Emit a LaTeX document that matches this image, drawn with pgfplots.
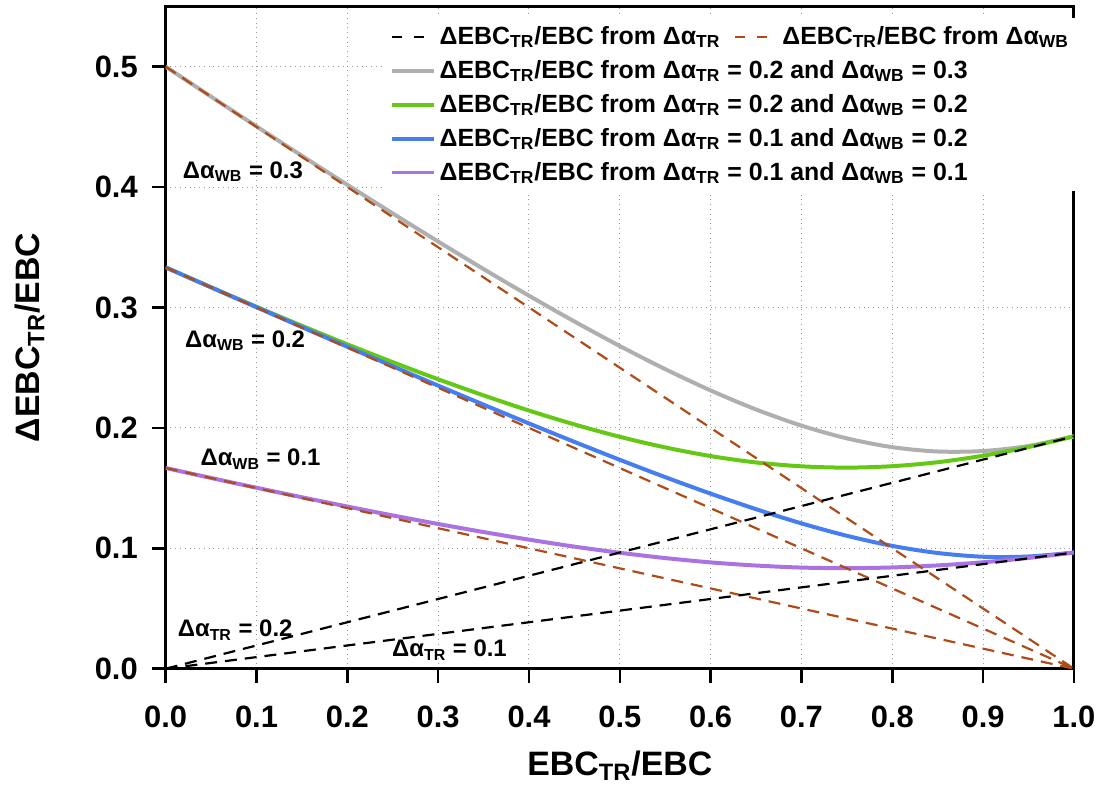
\documentclass[border=0pt]{standalone}
\usepackage{fontspec}
\setmainfont{Liberation Sans}
\usepackage{pgfplots}
\pgfplotsset{compat=1.18}

\definecolor{cgray}{RGB}{175,175,175}
\definecolor{cgreen}{RGB}{100,200,20}
\definecolor{cblue}{RGB}{70,125,240}
\definecolor{cpurple}{RGB}{170,115,225}
\definecolor{cbrown}{RGB}{175,75,25}

\newcommand{\sub}[1]{\textsubscript{#1}}
\newcommand{\lbl}{ΔEBC\sub{TR}/EBC from }
\newcommand{\wide}[1]{\makebox[0pt][l]{#1}}

\begin{document}
\begin{tikzpicture}
\begin{axis}[
  scale only axis,
  width=456pt, height=332.5pt,
  xmin=0, xmax=1, ymin=0, ymax=0.55,
  xtick={0,0.1,...,1.0},
  ytick={0,0.1,...,0.5},
  xtick pos=left, ytick pos=left,
  tick align=outside,
  major tick length=7pt,
  every major tick/.append style={draw=black, line width=1.3pt},
  yticklabel shift=3.5pt,
  xticklabel style={yshift=-8pt},
  axis line style={line width=1.5pt},
  xmajorgrids, ymajorgrids,
  grid style={gray!80, dotted, line width=0.5pt},
  /pgf/number format/assume math mode=true,
  /pgf/number format/.cd, fixed, fixed zerofill, precision=1,
  /pgfplots/.cd,
  tick label style={font=\bfseries\fontsize{15.5}{18}\selectfont},
  label style={font=\bfseries\fontsize{17}{20}\selectfont},
  xlabel={EBC\sub{TR}/EBC},
  ylabel={ΔEBC\sub{TR}/EBC},
  xlabel shift=4.7pt,
  ylabel shift=18.5pt,
  legend columns=2,
  legend cell align=left,
  legend style={at={(rel axis cs:0.242,0.983)}, anchor=north west,
    draw=none, fill=white, inner sep=2pt,
    font=\bfseries\fontsize{12.5}{14.5}\selectfont,
    row sep=2.5pt,
    /tikz/every even column/.append style={column sep=5pt}},
  legend image code/.code={\draw[#1] (0pt,0pt) -- (21pt,0pt);},
]
% legend
\addlegendimage{black, line width=1.1pt, dash pattern=on 5pt off 6pt}
\addlegendentry{\lbl Δα\sub{TR}}
\addlegendimage{cbrown, line width=1.1pt, dash pattern=on 5pt off 6pt}
\addlegendentry{\lbl Δα\sub{WB}}
\addlegendimage{cgray, line width=2pt}
\addlegendentry{\wide{\lbl Δα\sub{TR} = 0.2 and Δα\sub{WB} = 0.3}}
\addlegendimage{empty legend}
\addlegendentry{}
\addlegendimage{cgreen, line width=2pt}
\addlegendentry{\wide{\lbl Δα\sub{TR} = 0.2 and Δα\sub{WB} = 0.2}}
\addlegendimage{empty legend}
\addlegendentry{}
\addlegendimage{cblue, line width=2pt}
\addlegendentry{\wide{\lbl Δα\sub{TR} = 0.1 and Δα\sub{WB} = 0.2}}
\addlegendimage{empty legend}
\addlegendentry{}
\addlegendimage{cpurple, line width=2pt}
\addlegendentry{\wide{\lbl Δα\sub{TR} = 0.1 and Δα\sub{WB} = 0.1}}
\addlegendimage{empty legend}
\addlegendentry{}

% solid curves: TR 0.2 & WB 0.3
\addplot[cgray, line width=2pt, smooth, forget plot] coordinates {
(0,0.5000) (0.05,0.4751) (0.1,0.4504) (0.15,0.4260) (0.2,0.4019) (0.25,0.3781)
(0.3,0.3548) (0.35,0.3319) (0.4,0.3098) (0.45,0.2884) (0.5,0.2680) (0.55,0.2488)
(0.6,0.2311) (0.65,0.2153) (0.7,0.2019) (0.75,0.1913) (0.8,0.1840) (0.85,0.1804)
(0.9,0.1808) (0.95,0.1850) (1,0.1930)};
% TR 0.2 & WB 0.2
\addplot[cgreen, line width=2pt, smooth, forget plot] coordinates {
(0,0.3333) (0.05,0.3168) (0.1,0.3006) (0.15,0.2848) (0.2,0.2694) (0.25,0.2546)
(0.3,0.2404) (0.35,0.2270) (0.4,0.2144) (0.45,0.2029) (0.5,0.1926) (0.55,0.1838)
(0.6,0.1766) (0.65,0.1713) (0.7,0.1681) (0.75,0.1670) (0.8,0.1682) (0.85,0.1715)
(0.9,0.1769) (0.95,0.1841) (1,0.1930)};
% TR 0.1 & WB 0.2
\addplot[cblue, line width=2pt, smooth, forget plot] coordinates {
(0,0.3333) (0.05,0.3167) (0.1,0.3002) (0.15,0.2837) (0.2,0.2674) (0.25,0.2512)
(0.3,0.2351) (0.35,0.2193) (0.4,0.2037) (0.45,0.1884) (0.5,0.1735) (0.55,0.1591)
(0.6,0.1454) (0.65,0.1325) (0.7,0.1207) (0.75,0.1104) (0.8,0.1020) (0.85,0.0961)
(0.9,0.0930) (0.95,0.0932) (1,0.0965)};
% TR 0.1 & WB 0.1
\addplot[cpurple, line width=2pt, smooth, forget plot] coordinates {
(0,0.1667) (0.05,0.1584) (0.1,0.1503) (0.15,0.1424) (0.2,0.1347) (0.25,0.1273)
(0.3,0.1202) (0.35,0.1135) (0.4,0.1072) (0.45,0.1014) (0.5,0.0963) (0.55,0.0919)
(0.6,0.0883) (0.65,0.0857) (0.7,0.0840) (0.75,0.0835) (0.8,0.0841) (0.85,0.0858)
(0.9,0.0884) (0.95,0.0920) (1,0.0965)};

% dashed: from delta alpha WB
\addplot[cbrown, line width=1.1pt, dash pattern=on 6pt off 4pt, forget plot] coordinates {(0,0.5) (1,0)};
\addplot[cbrown, line width=1.1pt, dash pattern=on 6pt off 4pt, forget plot] coordinates {(0,0.3333) (1,0)};
\addplot[cbrown, line width=1.1pt, dash pattern=on 6pt off 4pt, forget plot] coordinates {(0,0.1667) (1,0)};
% dashed: from delta alpha TR
\addplot[black, line width=1.1pt, dash pattern=on 6pt off 4pt, forget plot] coordinates {(0,0) (1,0.193)};
\addplot[black, line width=1.1pt, dash pattern=on 6pt off 4pt, forget plot] coordinates {(0,0) (1,0.0965)};

% annotations
\begin{scope}[every node/.style={font=\bfseries\fontsize{12}{14}\selectfont, anchor=base west, inner sep=0pt}]
\node at (axis cs:0.0186,0.4074) {Δα\sub{WB} = 0.3};
\node at (axis cs:0.021,0.267) {Δα\sub{WB} = 0.2};
\node at (axis cs:0.038,0.1686) {Δα\sub{WB} = 0.1};
\node at (axis cs:0.013,0.0264) {Δα\sub{TR} = 0.2};
\node at (axis cs:0.249,0.0099) {Δα\sub{TR} = 0.1};
\end{scope}
\end{axis}
% small margins as in the reference
\path ([xshift=-4pt]current bounding box.west);
\path ([yshift=2.5pt]current bounding box.north);
\path ([xshift=1pt]current bounding box.east);
\end{tikzpicture}
\end{document}
